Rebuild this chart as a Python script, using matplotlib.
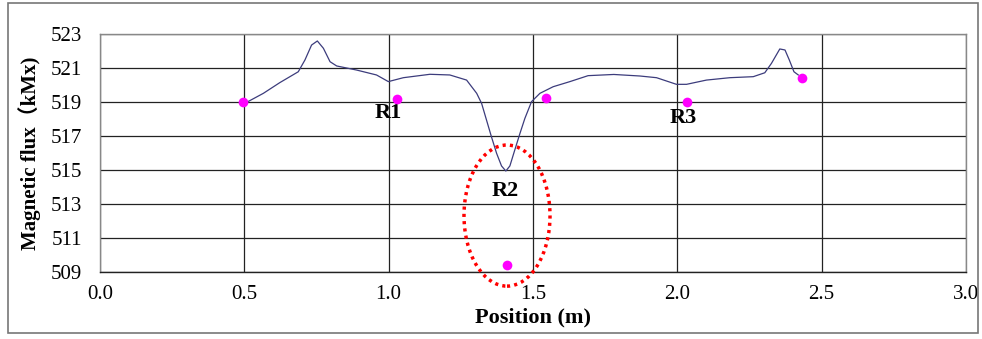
import numpy as np
import matplotlib.pyplot as plt
from matplotlib.patches import Ellipse, Rectangle

pos = [0.508, 0.566, 0.623, 0.687, 0.710, 0.733, 0.753, 0.774, 0.797, 0.820, 0.889,
       0.958, 0.999, 1.051, 1.143, 1.212, 1.270, 1.305, 1.322, 1.339, 1.356, 1.374,
       1.391, 1.406, 1.420, 1.437, 1.455, 1.472, 1.495, 1.524, 1.570, 1.628, 1.691,
       1.780, 1.870, 1.928, 1.997, 2.032, 2.101, 2.182, 2.263, 2.303, 2.326, 2.355,
       2.373, 2.388, 2.404, 2.419]
flux = [518.98, 519.51, 520.14, 520.78, 521.47, 522.35, 522.59, 522.16, 521.37, 521.12, 520.88,
        520.59, 520.20, 520.43, 520.63, 520.59, 520.29, 519.51, 518.92, 517.94, 516.96, 515.98,
        515.24, 514.94, 515.24, 516.18, 517.16, 518.04, 519.02, 519.51, 519.90, 520.20, 520.55,
        520.62, 520.53, 520.43, 520.04, 520.04, 520.29, 520.43, 520.49, 520.72, 521.27, 522.12,
        522.06, 521.47, 520.78, 520.59]

# reference points
pt_x = [0.495, 1.028, 1.411, 1.544, 2.033, 2.433]
pt_y = [519.02, 519.16, 509.41, 519.24, 519.02, 520.43]

labels = ['R1', 'R2', 'R3']
lab_x = [0.998, 1.403, 2.02]
lab_y = [518.35, 513.76, 518.06]

serif = ['Liberation Serif', 'Noto Sans CJK JP']

fig = plt.figure(figsize=(9.82, 3.39), dpi=100)
ax = fig.add_axes([0.1018, 0.1976, 0.8819, 0.7021])

ax.plot(pos, flux, color='#3c3c7c', lw=0.9, zorder=3)
ax.plot(pt_x, pt_y, 'o', color='#ff00ff', ms=7, mec='none', zorder=4)

for t, x, y in zip(labels, lab_x, lab_y):
    ax.text(x, y, t, ha='center', va='center', fontsize=16, fontweight='bold',
            family=serif)

ell = Ellipse((1.41, 512.32), 0.298, 8.3, fill=False, ec='red', lw=2.5,
              ls=(0, (0.9, 1.2)), clip_on=False, zorder=5)
ax.add_patch(ell)

ax.set_xlim(0, 3)
ax.set_ylim(509, 523)
xt = np.arange(0, 3.01, 0.5)
ax.set_xticks(xt)
ax.set_yticks(np.arange(509, 523.1, 2))
ax.set_xticklabels([f'{v:.1f}' for v in xt], family=serif, fontsize=15)
ax.set_yticklabels([str(v) for v in range(509, 524, 2)], family=serif, fontsize=15)
ax.tick_params(axis='x', length=0, pad=9)
ax.tick_params(axis='y', length=0, pad=13)
ax.grid(True, color='#222222', lw=0.9)
ax.set_axisbelow(True)
for s in ax.spines.values():
    s.set_color('#888888')
    s.set_linewidth(1.0)
ax.spines['bottom'].set_color('#222222')

ax.set_xlabel('Position (m)', family=serif, fontsize=16, fontweight='bold', labelpad=3)
ax.set_ylabel('Magnetic flux（kMx)', family=serif, fontsize=15, fontweight='bold', labelpad=7)

# outer frame of the chart
fig.patches.append(Rectangle((0.008, 0.018), 0.988, 0.973, transform=fig.transFigure,
                             fill=False, ec='#777777', lw=1.2))

fig.savefig('out.png', dpi=100)
